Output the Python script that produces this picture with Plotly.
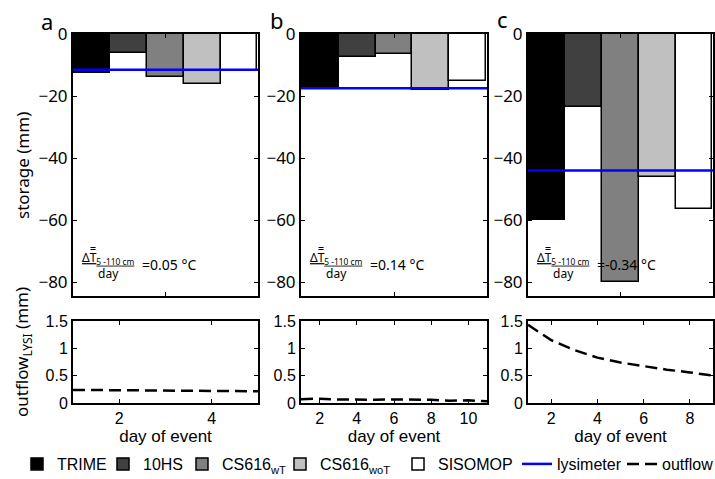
import plotly.graph_objects as go

# ---------------- data ----------------
sensors = ["TRIME", "10HS", "CS616<sub>wT</sub>", "CS616<sub>woT</sub>", "SISOMOP"]
sensor_colors = ["#000000", "#404040", "#808080", "#c0c0c0", "#ffffff"]
bar_pos = [1, 2, 3, 4, 5]
panel_letters = ["a", "b", "c"]

storage_a = [-12.5, -6.0, -14.0, -16.0, -12.0]
storage_b = [-17.0, -7.3, -6.5, -18.0, -15.0]
storage_c = [-60.0, -23.6, -80.0, -46.0, -56.5]
lysimeter = [-11.5, -17.5, -44.0]

days_a = [1, 2, 3, 4, 5]
outflow_a = [0.24, 0.235, 0.225, 0.22, 0.215]
days_b = [1, 2, 3, 4, 5, 6, 7, 8, 9, 10, 11]
outflow_b = [0.07, 0.08, 0.065, 0.06, 0.06, 0.065, 0.06, 0.06, 0.04, 0.05, 0.03]
days_c = [1, 2, 3, 4, 5, 6, 7, 8, 9]
outflow_c = [1.43, 1.15, 0.97, 0.83, 0.74, 0.67, 0.61, 0.56, 0.50]

dT_text = ["=0.05 °C", "=0.14 °C", "=-0.34 °C"]

storage_ticks = [0, -20, -40, -60, -80]
outflow_ticks = [0, 0.5, 1, 1.5]
outflow_ticktext = ["0", "0.5", "1", "1.5"]
day_ticks = [[2, 4], [2, 4, 6, 8, 10], [2, 4, 6, 8]]
day_ranges = [[1, 5], [1, 11], [1, 9]]

storage = [storage_a, storage_b, storage_c]
days = [days_a, days_b, days_c]
outflow = [outflow_a, outflow_b, outflow_c]

# ---------------- layout geometry (paper == pixels) ----------------
W, H = 715, 479
x_doms = [(73, 258), (301, 487), (528, 713)]
top_y = (34, 296)
bot_y = (321, 403)
bar_range = [0.48, 5.52]
storage_range = [-84.5, 0]
# legend item text start positions (px) for the 7 entries
legend_text_x = [57, 143, 222, 320, 438, 557, 662]
legend_names = ["legend", "legend2", "legend3", "legend4", "legend5", "legend6", "legend7"]

def px(x):
    return x / W

def py(y):
    return 1 - y / H

SANS = "Noto Sans, Open Sans, sans-serif"
NARROW = "Liberation Sans Narrow, Liberation Sans, Arial, sans-serif"
TICKFONT = dict(family=SANS, size=17, color="black")
NFONT = dict(family=NARROW, size=16, color="black")
TFONT = dict(family=NARROW, size=17, color="black")

fig = go.Figure()

# bars
for p in range(3):
    for i, name in enumerate(sensors):
        fig.add_trace(go.Bar(
            x=[bar_pos[i]], y=[storage[p][i]], width=1,
            name=name, legend=legend_names[i], showlegend=(p == 0),
            marker=dict(color=sensor_colors[i], line=dict(color="black", width=1.5)),
            xaxis=f"x{p+1}", yaxis=f"y{p+1}",
        ))

# lysimeter lines
for p in range(3):
    fig.add_trace(go.Scatter(
        x=bar_range, y=[lysimeter[p], lysimeter[p]], mode="lines",
        name="lysimeter", legend=legend_names[5], showlegend=(p == 0),
        line=dict(color="#0000ff", width=2.5),
        xaxis=f"x{p+1}", yaxis=f"y{p+1}",
    ))

# outflow
for p in range(3):
    fig.add_trace(go.Scatter(
        x=days[p], y=outflow[p], mode="lines",
        name="outflow", legend=legend_names[6], showlegend=(p == 0),
        line=dict(color="black", width=2.5, dash="12px,6px"),
        xaxis=f"x{p+4}", yaxis=f"y{p+4}",
    ))

axis_common = dict(showline=True, linecolor="black", linewidth=2, mirror="ticks",
                   ticks="inside", ticklen=4, tickcolor="black", tickwidth=1,
                   showgrid=False, zeroline=False, automargin=False)

layout = dict(
    width=W, height=H,
    margin=dict(l=0, r=0, t=0, b=0, autoexpand=False),
    paper_bgcolor="white", plot_bgcolor="white",
    barmode="overlay", bargap=0,
    showlegend=True,
)

for i, lname in enumerate(legend_names):
    layout[lname] = dict(orientation="h", x=px(legend_text_x[i] - 40), y=py(464),
                         xref="container", yref="container",
                         xanchor="left", yanchor="middle",
                         font=NFONT, itemwidth=30,
                         bgcolor="rgba(0,0,0,0)", borderwidth=0)

for p in range(3):
    xd = [px(x_doms[p][0]), px(x_doms[p][1])]
    layout[f"xaxis{p+1}"] = dict(axis_common, domain=xd, range=bar_range,
                                 tickvals=[3], ticktext=[""], anchor=f"y{p+1}")
    layout[f"yaxis{p+1}"] = dict(axis_common, domain=[py(top_y[1]), py(top_y[0])],
                                 range=storage_range, tickvals=storage_ticks,
                                 tickfont=TICKFONT, anchor=f"x{p+1}")
    layout[f"xaxis{p+4}"] = dict(axis_common, domain=xd, range=day_ranges[p],
                                 tickvals=day_ticks[p], tickfont=NFONT,
                                 title=dict(text="day of event", standoff=0, font=TFONT),
                                 anchor=f"y{p+4}")
    layout[f"yaxis{p+4}"] = dict(axis_common, domain=[py(bot_y[1]), py(bot_y[0])],
                                 range=[0, 1.5], tickvals=outflow_ticks,
                                 ticktext=outflow_ticktext, tickfont=NFONT,
                                 anchor=f"x{p+4}")

fig.update_layout(**layout)

ann = []
letter_pos = [(47, 21), (277, 20), (502, 19)]
for p in range(3):
    ann.append(dict(text=panel_letters[p], x=px(letter_pos[p][0]), y=py(letter_pos[p][1]),
                    xref="paper", yref="paper", showarrow=False,
                    xanchor="center", yanchor="middle",
                    font=dict(family=SANS, size=22, color="black")))
    left = x_doms[p][0]
    ann.append(dict(text="<u>ΔT̿<sub>5 -110 cm</sub></u><br>day",
                    x=px(left + 35), y=py(264), xref="paper", yref="paper",
                    xanchor="center", yanchor="middle",
                    showarrow=False, align="center",
                    font=dict(family=SANS, size=12, color="black")))
    ann.append(dict(text=dT_text[p], x=px(left + 67), y=py(264), xref="paper", yref="paper",
                    xanchor="left", yanchor="middle", showarrow=False,
                    font=dict(family=SANS, size=14, color="black")))

ann.append(dict(text="storage (mm)", x=px(22), y=py(166), xref="paper", yref="paper",
                xanchor="center", yanchor="middle",
                textangle=-90, showarrow=False,
                font=dict(family=SANS, size=17, color="black")))
ann.append(dict(text="outflow<sub>LYSI</sub> (mm)", x=px(22), y=py(352), xref="paper", yref="paper",
                xanchor="center", yanchor="middle",
                textangle=-90, showarrow=False,
                font=dict(family=SANS, size=17, color="black")))
fig.update_layout(annotations=ann)

fig.write_html("out.html", config={"displayModeBar": False},
               post_script="document.body.style.margin='0px';")
